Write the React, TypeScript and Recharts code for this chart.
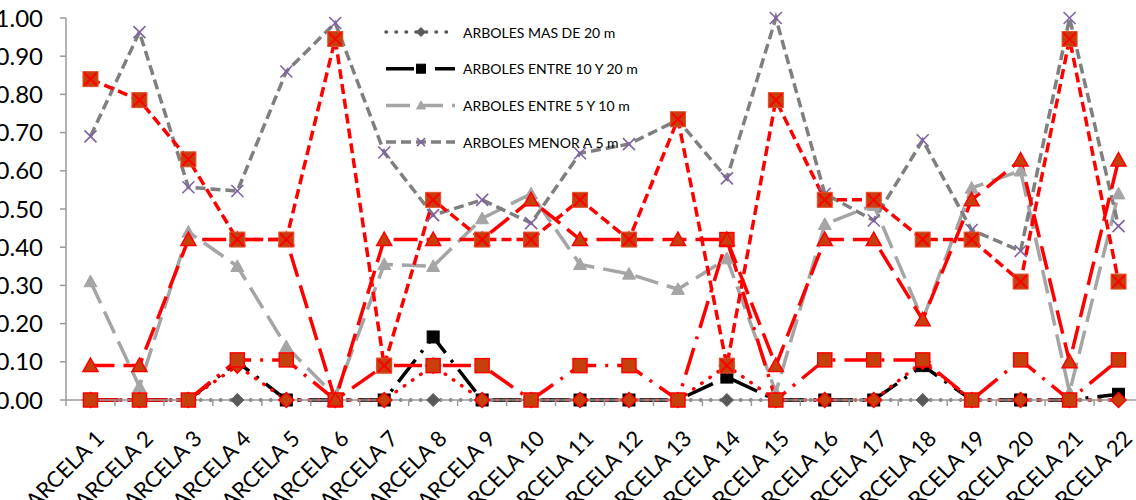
import React from 'react';
import { LineChart, Line, XAxis, YAxis } from 'recharts';

const categories = [
  'PARCELA 1', 'PARCELA 2', 'PARCELA 3', 'PARCELA 4', 'PARCELA 5', 'PARCELA 6',
  'PARCELA 7', 'PARCELA 8', 'PARCELA 9', 'PARCELA 10', 'PARCELA 11', 'PARCELA 12',
  'PARCELA 13', 'PARCELA 14', 'PARCELA 15', 'PARCELA 16', 'PARCELA 17', 'PARCELA 18',
  'PARCELA 19', 'PARCELA 20', 'PARCELA 21', 'PARCELA 22',
];

// legend series (gray / black)
const masDe20 = [0, 0, 0, 0, 0, 0, 0, 0, 0, 0, 0, 0, 0, 0, 0, 0, 0, 0, 0, 0, 0, 0];
const entre10y20 = [0, 0, 0, 0.10, 0, 0, 0, 0.165, 0, 0, 0, 0, 0, 0.06, 0, 0, 0, 0.09, 0, 0, 0, 0.015];
const entre5y10 = [0.31, 0.035, 0.44, 0.35, 0.14, 0.01, 0.355, 0.35, 0.475, 0.54, 0.355, 0.33, 0.29, 0.37, 0.02, 0.46, 0.51, 0.21, 0.555, 0.60, 0.02, 0.54];
const menorA5 = [0.69, 0.963, 0.557, 0.547, 0.86, 0.987, 0.648, 0.484, 0.524, 0.463, 0.646, 0.67, 0.733, 0.58, 1.0, 0.54, 0.47, 0.68, 0.445, 0.39, 1.0, 0.455];

// overlaid red series
const rojoMasDe20 = [0, 0, 0, 0.09, 0, 0, 0, 0.09, 0, 0, 0, 0, 0, 0.09, 0, 0, 0, 0.10, 0, 0, 0, 0];
const rojoEntre10y20 = [0, 0, 0, 0.105, 0.105, 0, 0.09, 0.09, 0.09, 0, 0.09, 0.09, 0, 0.42, 0, 0.105, 0.105, 0.105, 0, 0.105, 0, 0.105];
const rojoEntre5y10 = [0.09, 0.09, 0.42, 0.42, 0.42, 0, 0.42, 0.42, 0.42, 0.524, 0.42, 0.42, 0.42, 0.42, 0.09, 0.42, 0.42, 0.21, 0.524, 0.628, 0.10, 0.628];
const rojoMenorA5 = [0.84, 0.785, 0.63, 0.42, 0.42, 0.945, 0.09, 0.524, 0.42, 0.42, 0.524, 0.42, 0.735, 0.09, 0.785, 0.524, 0.524, 0.42, 0.42, 0.31, 0.945, 0.31];

const yTicks = [0, 0.1, 0.2, 0.3, 0.4, 0.5, 0.6, 0.7, 0.8, 0.9, 1.0];

const legendNames = [
  'ARBOLES MAS DE 20 m',
  'ARBOLES ENTRE 10 Y 20 m',
  'ARBOLES ENTRE 5 Y 10 m',
  'ARBOLES MENOR A 5 m',
];

const data = categories.map((name, i) => ({
  name,
  s1: masDe20[i],
  s2: entre10y20[i],
  s3: entre5y10[i],
  s4: menorA5[i],
  r1: rojoMasDe20[i],
  r2: rojoEntre10y20[i],
  r3: rojoEntre5y10[i],
  r4: rojoMenorA5[i],
}));

const FONT = 'Lato, "Open Sans", sans-serif';
const CHART_W = 1150;
const CHART_H = 500;
const Y_W = 66;
const M = { top: 18, right: 7, bottom: 0, left: 0 };
const BAND = (CHART_W - Y_W - M.right - M.left) / categories.length;

const RED = '#ff0000';
const RED_FILL = '#c6400c';
const AXIS = '#9a9a9a';

type MK = 'diamond' | 'square' | 'triangle' | 'x' | 'squarex';

function Marker({ cx, cy, kind, size, fill, stroke, sw = 1 }: any) {
  if (cx == null || cy == null) return null;
  const h = size / 2;
  if (kind === 'diamond') {
    return <polygon points={`${cx},${cy - h} ${cx + h},${cy} ${cx},${cy + h} ${cx - h},${cy}`} fill={fill} stroke={stroke} strokeWidth={sw} />;
  }
  if (kind === 'square') {
    return <rect x={cx - h} y={cy - h} width={size} height={size} fill={fill} stroke={stroke} strokeWidth={sw} />;
  }
  if (kind === 'triangle') {
    return <polygon points={`${cx},${cy - h} ${cx + h},${cy + h * 0.8} ${cx - h},${cy + h * 0.8}`} fill={fill} stroke={stroke} strokeWidth={sw} />;
  }
  if (kind === 'x') {
    return (
      <g stroke={stroke} strokeWidth={sw}>
        <line x1={cx - h} y1={cy - h} x2={cx + h} y2={cy + h} />
        <line x1={cx - h} y1={cy + h} x2={cx + h} y2={cy - h} />
      </g>
    );
  }
  const k = h * 0.85;
  return (
    <g>
      <rect x={cx - h} y={cy - h} width={size} height={size} fill={fill} stroke="#e0502a" strokeWidth={1} />
      <g stroke={stroke} strokeWidth={2}>
        <line x1={cx - k} y1={cy - k} x2={cx + k} y2={cy + k} />
        <line x1={cx - k} y1={cy + k} x2={cx + k} y2={cy - k} />
      </g>
    </g>
  );
}

type SeriesCfg = {
  key: string;
  stroke: string;
  width: number;
  dash: string;
  cap: 'butt' | 'round';
  marker: MK;
  msize: number;
  mfill: string;
  mstroke: string;
  msw: number;
  legend?: number;
};

const series: SeriesCfg[] = [
  { key: 's1', stroke: '#595959', width: 3.5, dash: '0.5 9.5', cap: 'round', marker: 'diamond', msize: 13, mfill: '#595959', mstroke: '#595959', msw: 1, legend: 0 },
  { key: 's2', stroke: '#000000', width: 3.5, dash: '28 9 3 9', cap: 'butt', marker: 'square', msize: 12, mfill: '#000000', mstroke: '#000000', msw: 1, legend: 1 },
  { key: 's3', stroke: '#a5a5a5', width: 3.5, dash: '24 9', cap: 'butt', marker: 'triangle', msize: 13, mfill: '#a5a5a5', mstroke: '#a5a5a5', msw: 1, legend: 2 },
  { key: 's4', stroke: '#7f7f7f', width: 3.5, dash: '10 5', cap: 'butt', marker: 'x', msize: 12, mfill: 'none', mstroke: '#7e62a2', msw: 1.6, legend: 3 },
  { key: 'r1', stroke: RED, width: 3.5, dash: '0.5 9.5', cap: 'round', marker: 'diamond', msize: 15, mfill: RED_FILL, mstroke: RED, msw: 1.5 },
  { key: 'r2', stroke: RED, width: 3.5, dash: '28 9 3 9', cap: 'butt', marker: 'square', msize: 14, mfill: RED_FILL, mstroke: RED, msw: 1.5 },
  { key: 'r3', stroke: RED, width: 3.5, dash: '24 9', cap: 'butt', marker: 'triangle', msize: 15, mfill: RED_FILL, mstroke: RED, msw: 1.5 },
  { key: 'r4', stroke: RED, width: 3.5, dash: '10 5', cap: 'butt', marker: 'squarex', msize: 15, mfill: RED_FILL, mstroke: RED, msw: 1.5 },
];

const XTick = (props: any) => {
  const { x, y, payload, index } = props;
  const half = BAND / 2;
  const tx = x + 15;
  const ty = y + 40;
  return (
    <g>
      <line x1={x - half} x2={x - half} y1={y} y2={y + 6} stroke={AXIS} strokeWidth={1.5} />
      {index === categories.length - 1 ? (
        <line x1={x + half} x2={x + half} y1={y} y2={y + 6} stroke={AXIS} strokeWidth={1.5} />
      ) : null}
      <text x={tx} y={ty} textAnchor="end" transform={`rotate(-45 ${tx} ${ty})`} fontSize={22} fontFamily={FONT} fill="#000">
        {payload.value}
      </text>
    </g>
  );
};

const LegendBox = () => {
  const rows = series.filter((s) => s.legend !== undefined);
  return (
    <svg width={300} height={170} style={{ position: 'absolute', left: 370, top: 0, overflow: 'visible' }}>
      {rows.map((s, i) => {
        const cy = 32 + i * 36.7;
        return (
          <g key={s.key}>
            <line x1={16} x2={85} y1={cy} y2={cy} stroke={s.stroke} strokeWidth={s.width} strokeDasharray={s.dash} strokeLinecap={s.cap} />
            <Marker cx={51} cy={cy} kind={s.marker} size={s.marker === 'x' ? 8 : 9} fill={s.mfill} stroke={s.mstroke} sw={s.msw} />
            <text x={93} y={cy} dominantBaseline="central" fontSize={14} fontFamily={FONT} fill="#000">
              {legendNames[s.legend as number]}
            </text>
          </g>
        );
      })}
    </svg>
  );
};

export default function App() {
  return (
    <div style={{ position: 'absolute', left: 0, top: 0, width: 1136, height: 500, overflow: 'hidden', background: '#fff' }}>
      <LineChart width={CHART_W} height={CHART_H} data={data} margin={M}>
        <YAxis
          width={Y_W}
          domain={[0, 1]}
          ticks={yTicks}
          interval={0}
          tickFormatter={(v: number) => v.toFixed(2)}
          tick={{ fontSize: 24, fill: '#000', fontFamily: FONT }}
          axisLine={{ stroke: AXIS, strokeWidth: 1.5 }}
          tickLine={{ stroke: AXIS, strokeWidth: 1.5 }}
          tickSize={6}
          tickMargin={17}
        />
        <XAxis
          dataKey="name"
          interval={0}
          height={100}
          padding={{ left: BAND / 2, right: BAND / 2 }}
          tickLine={false}
          tickSize={0}
          tickMargin={0}
          axisLine={{ stroke: AXIS, strokeWidth: 1.5 }}
          tick={<XTick />}
        />
        {series.map((s) => (
          <Line
            key={s.key}
            dataKey={s.key}
            type="linear"
            stroke={s.stroke}
            strokeWidth={s.width}
            strokeDasharray={s.dash}
            strokeLinecap={s.cap}
            isAnimationActive={false}
            legendType="none"
            activeDot={false}
            dot={(p: any) => (
              <Marker key={`${s.key}-${p.index}`} cx={p.cx} cy={p.cy} kind={s.marker} size={s.msize} fill={s.mfill} stroke={s.mstroke} sw={s.msw} />
            )}
          />
        ))}
      </LineChart>
      <LegendBox />
    </div>
  );
}
